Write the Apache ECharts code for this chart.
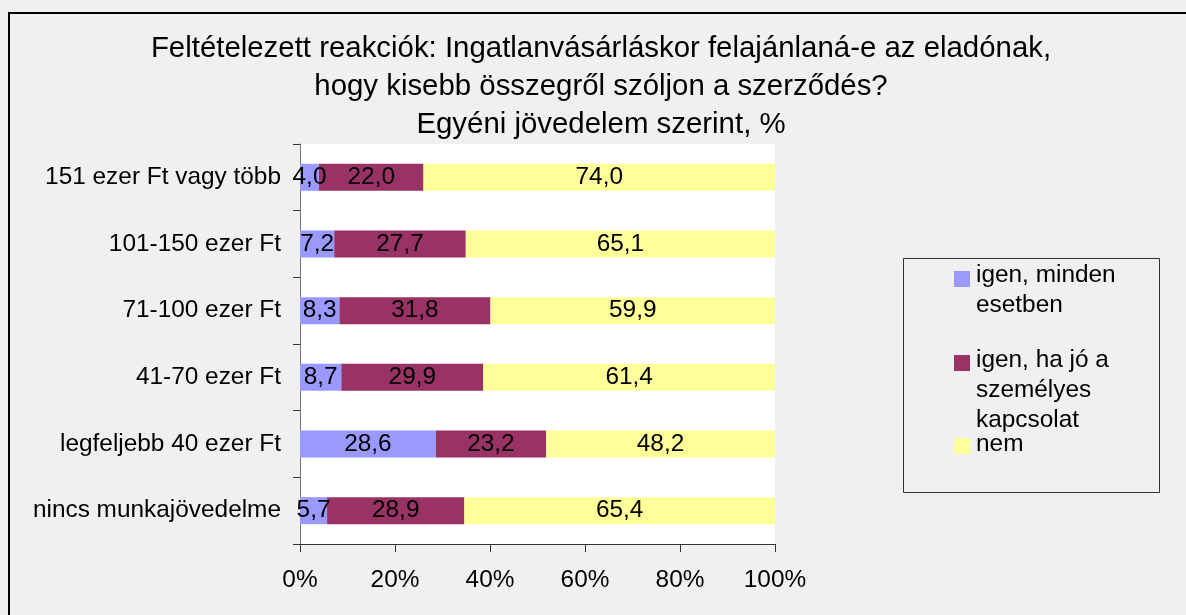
<!DOCTYPE html>
<html>
<head>
<meta charset="utf-8">
<script src="https://cdn.jsdelivr.net/npm/echarts@6/dist/echarts.min.js"></script>
<style>
html,body{margin:0;padding:0;background:#f0f0f0;}
#chart{width:1186px;height:615px;}
</style>
</head>
<body>
<div id="chart"></div>
<script>
var titleText = 'Feltételezett reakciók: Ingatlanvásárláskor felajánlaná-e az eladónak,\nhogy kisebb összegről szóljon a szerződés?\nEgyéni jövedelem szerint, %';
var categories = ['151 ezer Ft vagy több', '101-150 ezer Ft', '71-100 ezer Ft', '41-70 ezer Ft', 'legfeljebb 40 ezer Ft', 'nincs munkajövedelme'];
var seriesNames = ['igen, minden esetben', 'igen, ha jó a személyes kapcsolat', 'nem'];
var legendLines = [['igen, minden', 'esetben'], ['igen, ha jó a', 'személyes', 'kapcsolat'], ['nem']];
var igenMinden = [4.0, 7.2, 8.3, 8.7, 28.6, 5.7];
var igenHaJo = [22.0, 27.7, 31.8, 29.9, 23.2, 28.9];
var nem = [74.0, 65.1, 59.9, 61.4, 48.2, 65.4];
var xTicks = [0, 20, 40, 60, 80, 100];

var colors = ['#9999ff', '#993366', '#ffff99'];
var FONT = "'Liberation Sans', Arial, sans-serif";
var FS = 24.4;
var allData = [igenMinden, igenHaJo, nem];

var chart = echarts.init(document.getElementById('chart'));

var series = seriesNames.map(function (n, i) {
  return {
    name: n,
    type: 'bar',
    stack: 'total',
    barWidth: 27,
    data: allData[i],
    itemStyle: { color: colors[i] },
    label: {
      show: true,
      position: 'inside',
      color: '#000',
      fontSize: FS,
      fontFamily: FONT,
      formatter: function (p) { return p.value.toFixed(1).replace('.', ','); }
    },
    emphasis: { disabled: true },
    animation: false
  };
});

var legendEls = [{
  type: 'rect', shape: { x: 903.5, y: 258.5, width: 256, height: 234 },
  style: { fill: 'none', stroke: '#333', lineWidth: 1 }
}];
var squareY = [271, 355, 438];
var lineMid = [[275, 305], [360, 390, 420], [444]];
seriesNames.forEach(function (n, i) {
  legendEls.push({ type: 'rect', shape: { x: 954, y: squareY[i], width: 16, height: 16 }, style: { fill: colors[i] } });
  legendLines[i].forEach(function (t, j) {
    legendEls.push({ type: 'text', x: 976, y: lineMid[i][j], style: { text: t, fontSize: FS, fontFamily: FONT, fill: '#000', verticalAlign: 'middle', align: 'left' } });
  });
});

var option = {
  backgroundColor: '#f0f0f0',
  animation: false,
  title: {
    text: titleText,
    left: 601,
    top: 30,
    padding: 0,
    textAlign: 'center',
    textStyle: { fontSize: 29.4, fontWeight: 'normal', color: '#000', fontFamily: FONT, lineHeight: 38 }
  },
  grid: { left: 300, right: 411, top: 144, bottom: 71, show: true, backgroundColor: '#ffffff', borderWidth: 0 },
  xAxis: {
    type: 'value', min: 0, max: 100, interval: 20,
    axisLine: { show: true, lineStyle: { color: '#333', width: 1 } },
    axisTick: { show: true, length: 8, lineStyle: { color: '#333' } },
    splitLine: { show: false },
    axisLabel: { formatter: '{value}%', fontSize: FS, fontFamily: FONT, color: '#000', margin: 24 }
  },
  yAxis: {
    type: 'category', data: categories, inverse: true,
    axisLine: { show: true, lineStyle: { color: '#777', width: 1 } },
    axisTick: { show: true, length: 7, inside: false, lineStyle: { color: '#333' } },
    axisLabel: { fontSize: FS, fontFamily: FONT, color: '#000', margin: 19 }
  },
  series: series,
  graphic: [
    { type: 'rect', shape: { x: 9, y: 13, width: 1300, height: 800 }, style: { fill: 'none', stroke: '#000', lineWidth: 2 }, z: 100 },
    { type: 'group', children: legendEls }
  ]
};
chart.setOption(option);
</script>
</body>
</html>
